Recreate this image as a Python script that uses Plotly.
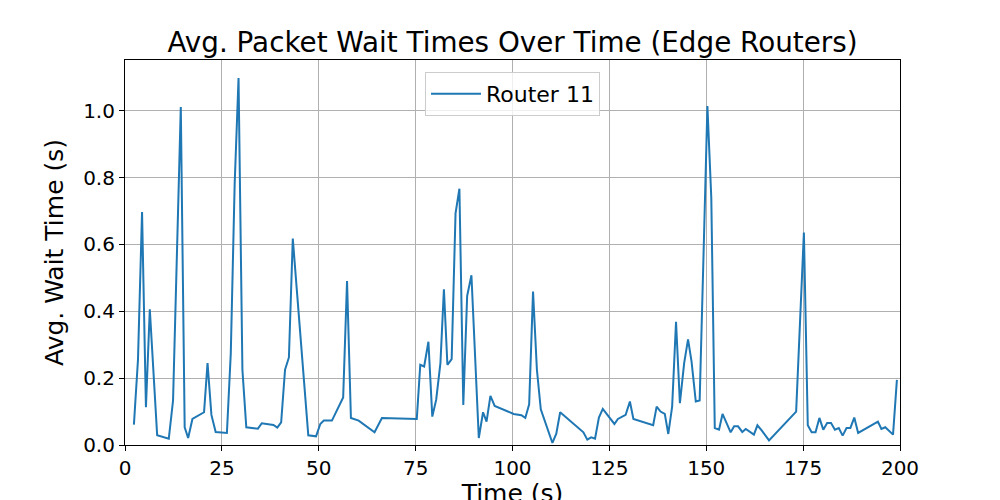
import plotly.graph_objects as go

time_s = [2.3, 3.35, 4.4, 5.4, 6.4, 8.3, 11.3, 12.4, 14.4, 15.4, 16.3, 17.4, 20.4, 21.3, 22.3, 23.4,
          26.3, 27.3, 28.3, 29.3, 30.3, 31.3, 34.3, 35.3, 38.3, 39.3, 40.3, 41.3, 42.3, 43.3, 44.3,
          45.3, 46.3, 47.3, 49.3, 50.4, 51.3, 53.4, 56.3, 57.3, 58.3, 60.3, 64.4, 66.3, 75.3, 76.2,
          77.2, 78.3, 79.3, 80.3, 81.4, 82.3, 83.2, 84.3, 85.3, 86.3, 87.3, 88.3, 89.4, 91.3, 92.4,
          93.3, 94.3, 95.4, 100.3, 102.3, 103.3, 104.3, 105.3, 106.3, 107.3, 110.3, 111.3, 112.3,
          118.3, 119.3, 120.3, 121.3, 122.3, 123.3, 126.3, 127.2, 129.2, 130.3, 131.2, 136.3, 137.2,
          138.2, 139.3, 140.2, 141.2, 142.2, 143.2, 144.3, 145.3, 146.2, 147.3, 148.3, 149.3, 150.3,
          151.3, 152.2, 153.3, 154.2, 156.3, 157.2, 158.2, 159.3, 160.2, 162.3, 163.2, 164.3, 166.2,
          173.2, 175.2, 176.2, 177.2, 178.2, 179.2, 180.2, 181.2, 182.2, 183.2, 184.2, 185.2, 186.2,
          187.2, 188.2, 189.2, 194.3, 195.2, 196.2, 198.2, 199.2]

wait_s = [0.061, 0.255, 0.697, 0.113, 0.406, 0.029, 0.019, 0.133, 1.011, 0.053, 0.021, 0.078, 0.098,
          0.245, 0.090, 0.039, 0.036, 0.275, 0.780, 1.098, 0.225, 0.053, 0.049, 0.065, 0.060, 0.052,
          0.068, 0.225, 0.262, 0.618, 0.470, 0.330, 0.180, 0.029, 0.026, 0.063, 0.073, 0.073, 0.142,
          0.491, 0.081, 0.073, 0.038, 0.081, 0.078, 0.240, 0.235, 0.309, 0.085, 0.135, 0.245, 0.466,
          0.240, 0.257, 0.693, 0.767, 0.120, 0.446, 0.508, 0.021, 0.098, 0.070, 0.147, 0.117, 0.093,
          0.089, 0.081, 0.122, 0.459, 0.225, 0.107, 0.006, 0.034, 0.098, 0.038, 0.016, 0.023, 0.019,
          0.082, 0.108, 0.063, 0.078, 0.090, 0.130, 0.078, 0.059, 0.115, 0.100, 0.093, 0.033, 0.115,
          0.369, 0.125, 0.245, 0.316, 0.250, 0.130, 0.133, 0.570, 1.014, 0.740, 0.051, 0.046, 0.093,
          0.038, 0.056, 0.056, 0.039, 0.048, 0.031, 0.059, 0.044, 0.014, 0.100, 0.636, 0.059, 0.038,
          0.038, 0.081, 0.046, 0.066, 0.066, 0.046, 0.051, 0.028, 0.051, 0.051, 0.082, 0.036, 0.070,
          0.048, 0.053, 0.031, 0.195]

x_ticks = [0, 25, 50, 75, 100, 125, 150, 175, 200]
y_ticks = [0.0, 0.2, 0.4, 0.6, 0.8, 1.0]
y_tick_labels = ["0.0", "0.2", "0.4", "0.6", "0.8", "1.0"]

FONT = "DejaVu Sans"

fig = go.Figure()
fig.add_trace(go.Scatter(x=time_s, y=wait_s, mode="lines", name="Router 11",
                         line=dict(color="#1f77b4", width=2)))

axis_common = dict(showline=True, linecolor="black", linewidth=1.1, mirror=True,
                   showgrid=True, gridcolor="#b0b0b0", gridwidth=1.1,
                   ticks="outside", ticklen=5, tickcolor="black", tickwidth=1.1,
                   tickfont=dict(family=FONT, size=20, color="black"),
                   zeroline=False, automargin=False)

fig.update_layout(
    width=1000, height=500,
    paper_bgcolor="white", plot_bgcolor="white",
    margin=dict(l=117, r=108, t=52, b=63),
    title=dict(text="Avg. Packet Wait Times Over Time (Edge Routers)",
               font=dict(family=FONT, size=27.8, color="black"),
               x=0.5045, xanchor="center", y=0.932, yanchor="middle"),
    xaxis=dict(range=[0, 200], tickvals=x_ticks,
               title=dict(text="Time (s)", font=dict(family=FONT, size=25, color="black"), standoff=2),
               **axis_common),
    yaxis=dict(range=[0, 1.152], tickvals=y_ticks, ticktext=y_tick_labels,
               title=dict(text="Avg. Wait Time (s)", font=dict(family=FONT, size=25, color="black"), standoff=12),
               **axis_common),
    showlegend=True,
    legend=dict(x=0.5, xanchor="center", y=0.969, yanchor="top",
                bordercolor="#cccccc", borderwidth=1, bgcolor="rgba(255,255,255,0.8)",
                itemwidth=50,
                font=dict(family=FONT, size=22, color="black")),
)

fig.write_html("out.html")
